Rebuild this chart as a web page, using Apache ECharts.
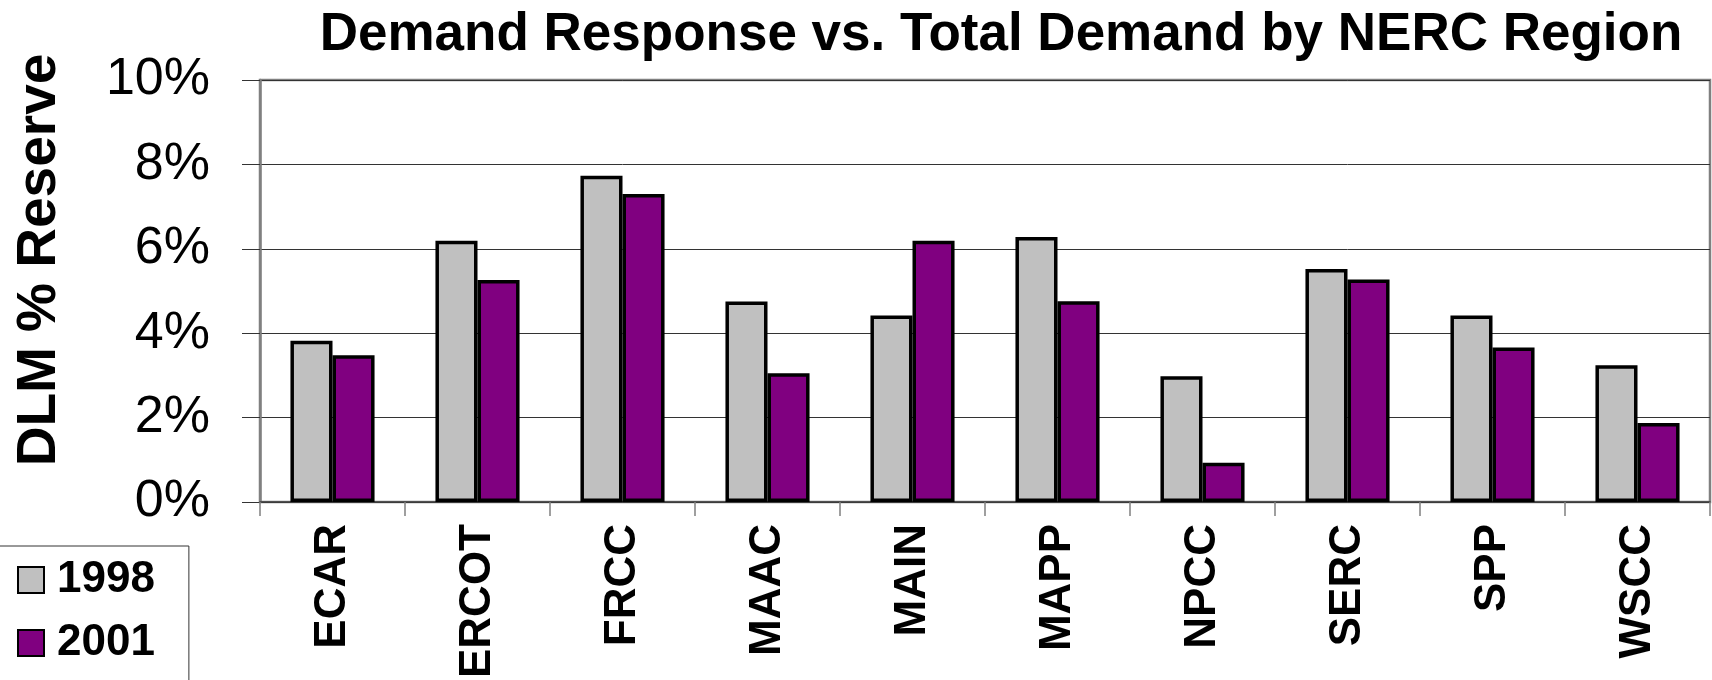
<!DOCTYPE html>
<html>
<head>
<meta charset="utf-8">
<script src="https://cdn.jsdelivr.net/npm/echarts@6/dist/echarts.min.js"></script>
<style>
html, body { margin: 0; padding: 0; background: #fff; }
#chart { width: 1712px; height: 680px; }
</style>
</head>
<body>
<div id="chart"></div>
<script>
// NERC regions
var categories = ['ECAR', 'ERCOT', 'FRCC', 'MAAC', 'MAIN', 'MAPP', 'NPCC', 'SERC', 'SPP', 'WSCC'];
// DLM % reserve
var values1998 = [3.82, 6.19, 7.73, 4.75, 4.42, 6.28, 2.98, 5.52, 4.42, 3.24];
var values2001 = [3.48, 5.26, 7.30, 3.05, 6.19, 4.76, 0.93, 5.27, 3.66, 1.87];
var seriesNames = ['1998', '2001'];

var font = 'Liberation Sans, Arial, sans-serif';

var myChart = echarts.init(document.getElementById('chart'), null, {renderer: 'canvas'});

var option = {
    backgroundColor: '#fff',
    animation: false,
    title: {
        text: 'Demand Response vs. Total Demand by NERC Region',
        left: 996,
        textAlign: 'center',
        top: 4,
        textStyle: {
            fontFamily: font,
            fontWeight: 'bold',
            fontSize: 53,
            color: '#000'
        }
    },
    legend: {
        orient: 'vertical',
        left: -1,
        top: 546,
        height: 200,
        data: seriesNames,
        icon: 'rect',
        itemWidth: 26,
        itemHeight: 26,
        itemGap: 19,
        padding: [12, 34, 40, 18],
        borderColor: '#333',
        borderWidth: 1,
        backgroundColor: '#fff',
        textStyle: {
            fontFamily: font,
            fontWeight: 'bold',
            fontSize: 44,
            color: '#000',
            padding: [0, 0, 0, 8]
        }
    },
    grid: {
        left: 260,
        right: 2,
        top: 80,
        bottom: 178,
        containLabel: false,
        outerBoundsMode: 'none',
        show: true,
        borderColor: '#808080',
        borderWidth: 2.5
    },
    xAxis: {
        type: 'category',
        data: categories,
        axisLine: {lineStyle: {color: '#404040', width: 1.5}},
        axisTick: {show: true, length: 14, lineStyle: {color: '#808080', width: 1.5}},
        axisLabel: {
            rotate: 90,
            margin: 22,
            fontFamily: font,
            fontWeight: 'bold',
            fontSize: 44,
            color: '#000'
        }
    },
    yAxis: {
        type: 'value',
        min: 0,
        max: 10,
        interval: 2,
        axisLine: {show: true, lineStyle: {color: '#808080', width: 2.5}},
        axisTick: {show: true, length: 18, lineStyle: {color: '#333', width: 1}},
        splitLine: {show: true, lineStyle: {color: '#333', width: 1}},
        axisLabel: {
            margin: 50,
            fontFamily: font,
            fontSize: 52,
            color: '#000',
            formatter: function(v){ return v + '%'; }
        }
    },
    graphic: [{
        type: 'text',
        x: 40,
        y: 260,
        rotation: Math.PI / 2,
        style: {
            text: 'DLM % Reserve',
            fontFamily: font,
            fontWeight: 'bold',
            fontSize: 55,
            fill: '#000',
            textAlign: 'center',
            textVerticalAlign: 'middle'
        }
    }],
    series: [
        {
            name: seriesNames[0],
            type: 'bar',
            data: values1998,
            barWidth: '29%',
            barGap: '0%',
            itemStyle: {color: '#C0C0C0', borderColor: '#000', borderWidth: 3.5}
        },
        {
            name: seriesNames[1],
            type: 'bar',
            data: values2001,
            barWidth: '29%',
            barGap: '0%',
            itemStyle: {color: '#800080', borderColor: '#000', borderWidth: 3.5}
        }
    ]
};

myChart.setOption(option);
</script>
</body>
</html>
